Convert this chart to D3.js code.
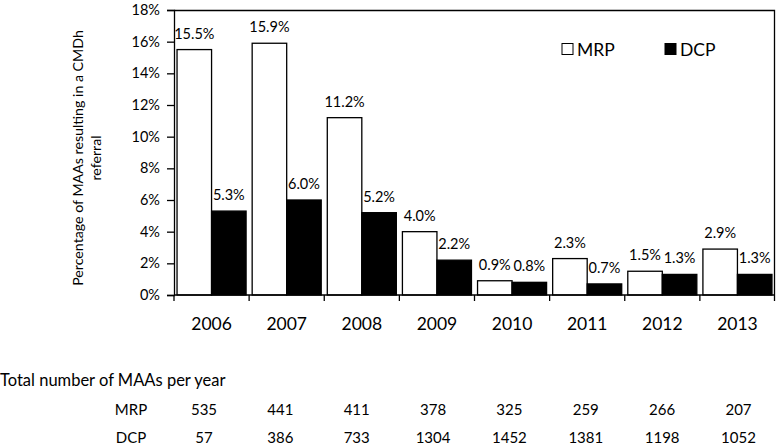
<!DOCTYPE html>
<html><head><meta charset="utf-8">
<script src="https://cdn.jsdelivr.net/npm/d3@7"></script>
<style>body{margin:0;background:#fff}svg{display:block;font-family:Lato,"Open Sans",sans-serif}</style>
</head><body><svg id="c" width="777" height="446"></svg>
<script>
const years = ["2006","2007","2008","2009","2010","2011","2012","2013"];
const series = ["MRP","DCP"];
const mrpPct = [15.5,15.9,11.2,4.0,0.9,2.3,1.5,2.9];
const dcpPct = [5.3,6.0,5.2,2.2,0.8,0.7,1.3,1.3];
const mrpTotal = [535,441,411,378,325,259,266,207];
const dcpTotal = [57,386,733,1304,1452,1381,1198,1052];
const yTicks = [0,2,4,6,8,10,12,14,16,18];

const svg = d3.select("#c");
const L=174, R=775, T=10, B=295;
const x = d3.scaleBand().domain(years).range([L,R]).padding(0);
const xs = d3.scaleBand().domain(series).range([0,x.bandwidth()]).paddingInner(0).paddingOuter(0.088);
const y = d3.scaleLinear().domain([0,18]).range([B,T]);
const fill = {MRP:"#fff", DCP:"#000"};
const vals = {MRP:mrpPct, DCP:dcpPct};

// frame top/right
svg.append("path").attr("d",`M${L},${T+0.5}H${R-0.5}V${B}`).attr("fill","none").attr("stroke","#000").attr("stroke-width",1.3);

// bars
series.forEach(s=>{
  const g=svg.append("g");
  years.forEach((yr,i)=>{
    const v=vals[s][i];
    g.append("rect").attr("x",x(yr)+xs(s)).attr("y",y(v)).attr("width",xs.bandwidth()).attr("height",y(0)-y(v))
      .attr("fill",fill[s]).attr("stroke","#000").attr("stroke-width",1.3);
    g.append("text").attr("x",x(yr)+xs(s)+xs.bandwidth()/2).attr("y",y(v)-11).attr("text-anchor","middle")
      .attr("font-size",14.5).text(v.toFixed(1)+"%");
  });
});

// y axis
const ya = svg.append("g").attr("transform",`translate(${L},0)`)
  .call(d3.axisLeft(y).tickValues(yTicks).tickFormat(d=>d+"%").tickSize(7).tickPadding(7));
ya.select(".domain").attr("stroke-width",1.3);
ya.selectAll("line").attr("stroke-width",1.3);
ya.selectAll("text").attr("font-size",14.5).attr("font-family","Lato").attr("fill","#000");

// x axis: ticks at boundaries
svg.append("line").attr("x1",L).attr("x2",R).attr("y1",B).attr("y2",B).attr("stroke","#000").attr("stroke-width",1.3);
years.forEach(yr=>{
  svg.append("line").attr("x1",x(yr)).attr("x2",x(yr)).attr("y1",B).attr("y2",B+6).attr("stroke","#000").attr("stroke-width",1.3);
  svg.append("text").attr("x",x(yr)+x.bandwidth()/2).attr("y",330).attr("text-anchor","middle").attr("font-size",17.5).text(yr);
});
svg.append("line").attr("x1",R-0.5).attr("x2",R-0.5).attr("y1",B).attr("y2",B+6).attr("stroke","#000").attr("stroke-width",1.3);

// y title
const yt = svg.append("text").attr("transform","translate(0,158) rotate(-90)").attr("text-anchor","middle").attr("font-size",14.2);
yt.append("tspan").attr("x",0).attr("y",83).text("Percentage of MAAs resulting in a CMDh");
yt.append("tspan").attr("x",0).attr("y",101).text("referral");

// legend
const leg=[{s:"MRP",x:562},{s:"DCP",x:665}];
leg.forEach(d=>{
  svg.append("rect").attr("x",d.x).attr("y",43.5).attr("width",11).attr("height",11).attr("fill",fill[d.s]).attr("stroke","#000").attr("stroke-width",1);
  svg.append("text").attr("x",d.x+15).attr("y",55.5).attr("font-size",17.5).text(d.s);
});

// table
const xt = d3.scalePoint().domain(years).range([204,738.5]);
svg.append("text").attr("x",0).attr("y",386).attr("font-size",16.5).text("Total number of MAAs per year");
const rows=[{s:"MRP",v:mrpTotal,y:415},{s:"DCP",v:dcpTotal,y:443}];
rows.forEach(r=>{
  svg.append("text").attr("x",131).attr("y",r.y).attr("text-anchor","middle").attr("font-size",15).text(r.s);
  years.forEach((yr,i)=>{
    svg.append("text").attr("x",xt(yr)).attr("y",r.y).attr("text-anchor","middle").attr("font-size",15).text(r.v[i]);
  });
});
</script></body></html>
